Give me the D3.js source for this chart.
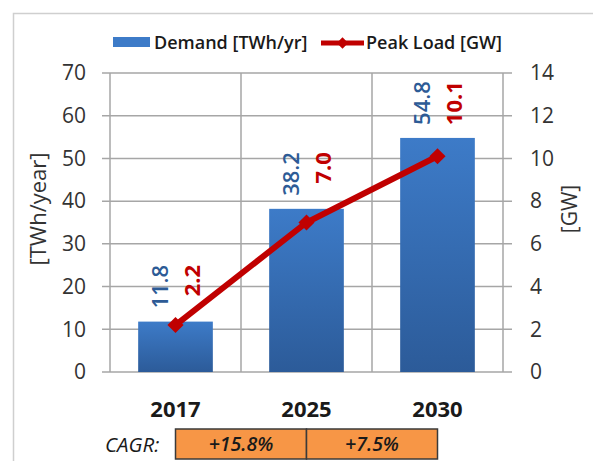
<!DOCTYPE html>
<html>
  <head>
    <title>Demand and Peak Load</title>
    <script src="https://d3js.org/d3.v7.min.js"></script>
    <style>
      body { margin: 0; background: #fff; }
      text { font-family: "Open Sans", "Liberation Sans", Arial, sans-serif; }
    </style>
  </head>
  <body>
    <div id="chart"></div>
    <script>
// data
const years = ["2017", "2025", "2030"];
const demand = [11.8, 38.2, 54.8];      // TWh/yr
const peakLoad = [2.2, 7.0, 10.1];      // GW
const demandLabels = ["11.8", "38.2", "54.8"];
const peakLabels = ["2.2", "7.0", "10.1"];
const leftTicks = [0, 10, 20, 30, 40, 50, 60, 70];
const rightTicks = [0, 2, 4, 6, 8, 10, 12, 14];
const cagr = ["+15.8%", "+7.5%"];

// dimensions
const width = 593;
const height = 461;
const marginTop = 73;
const marginBottom = 89;   // plot bottom at 372
const marginLeft = 110;
const marginRight = 90;    // plot right at 503

const blue = "#2d5b96";
const red = "#c00000";
const grid = "#a6a6a6";
const font = "Open Sans, Liberation Sans, Arial, sans-serif";

function createChart() {
  const x = d3.scaleBand()
    .domain(years)
    .range([marginLeft, width - marginRight])
    .paddingInner(0.43)
    .paddingOuter(0.215);

  // band boundaries (for vertical grid lines)
  const step = (width - marginLeft - marginRight) / years.length;
  const center = d => x(d) + x.bandwidth() / 2;

  const yL = d3.scaleLinear().domain([0, 70]).range([height - marginBottom, marginTop]);
  const yR = d3.scaleLinear().domain([0, 14]).range([height - marginBottom, marginTop]);

  const svg = d3.select("#chart").append("svg")
    .attr("width", width)
    .attr("height", height)
    .attr("viewBox", [0, 0, width, height]);

  // outer frame
  svg.append("rect")
    .attr("x", 13.5).attr("y", 13.5)
    .attr("width", width + 20).attr("height", height + 20)
    .attr("fill", "none").attr("stroke", "#cfcfcf").attr("stroke-width", 1.5);

  const defs = svg.append("defs");
  const grad = defs.append("linearGradient")
    .attr("id", "barGrad").attr("x1", 0).attr("y1", 0).attr("x2", 0).attr("y2", 1);
  grad.append("stop").attr("offset", "0%").attr("stop-color", "#3d7bc8");
  grad.append("stop").attr("offset", "100%").attr("stop-color", "#2c5b99");

  // horizontal grid lines (extend over tick marks)
  svg.append("g")
    .selectAll("line")
    .data(leftTicks)
    .join("line")
    .attr("x1", marginLeft - 8)
    .attr("x2", width - marginRight + 9)
    .attr("y1", d => yL(d))
    .attr("y2", d => yL(d))
    .attr("stroke", grid)
    .attr("stroke-width", 1.5);

  // vertical grid lines at category boundaries
  svg.append("g")
    .selectAll("line")
    .data(d3.range(years.length + 1))
    .join("line")
    .attr("x1", i => marginLeft + i * step)
    .attr("x2", i => marginLeft + i * step)
    .attr("y1", marginTop)
    .attr("y2", height - marginBottom)
    .attr("stroke", grid)
    .attr("stroke-width", 1.5);

  // left axis labels
  svg.append("g")
    .attr("transform", `translate(${marginLeft},0)`)
    .call(d3.axisLeft(yL).tickValues(leftTicks).tickSize(0).tickPadding(24))
    .call(g => g.select(".domain").remove())
    .call(g => g.selectAll("text").attr("font-size", 21).attr("fill", "#333")
      .attr("font-family", font));

  // right axis labels
  svg.append("g")
    .attr("transform", `translate(${width - marginRight},0)`)
    .call(d3.axisRight(yR).tickValues(rightTicks).tickSize(0).tickPadding(27))
    .call(g => g.select(".domain").remove())
    .call(g => g.selectAll("text").attr("font-size", 21).attr("fill", "#333")
      .attr("font-family", font));

  // axis titles
  svg.append("text")
    .attr("transform", "translate(38,209) rotate(-90)")
    .attr("text-anchor", "middle")
    .attr("dy", "0.35em")
    .attr("font-size", 22)
    .attr("fill", "#333")
    .text("[TWh/year]");

  svg.append("text")
    .attr("transform", "translate(570,209) rotate(-90)")
    .attr("text-anchor", "middle")
    .attr("dy", "0.35em")
    .attr("font-size", 21)
    .attr("fill", "#333")
    .text("[GW]");

  // bars
  svg.append("g")
    .selectAll("rect")
    .data(demand)
    .join("rect")
    .attr("x", (d, i) => x(years[i]))
    .attr("y", d => yL(d))
    .attr("width", x.bandwidth())
    .attr("height", d => yL(0) - yL(d))
    .attr("fill", "url(#barGrad)");

  // peak load line
  const line = d3.line()
    .x((d, i) => center(years[i]))
    .y(d => yR(d));

  svg.append("path")
    .datum(peakLoad)
    .attr("fill", "none")
    .attr("stroke", red)
    .attr("stroke-width", 6)
    .attr("d", line);

  svg.append("g")
    .selectAll("path")
    .data(peakLoad)
    .join("path")
    .attr("transform", (d, i) => `translate(${center(years[i])},${yR(d)}) rotate(45)`)
    .attr("d", d3.symbol(d3.symbolSquare, 130)())
    .attr("fill", red);

  // data labels (rotated)
  demand.forEach((d, i) => {
    const cx = center(years[i]);
    const y0 = yL(d) - 13;
    const bl = svg.append("text")
      .attr("transform", `translate(${cx - 15},${y0}) rotate(-90)`)
      .attr("dy", "0.35em")
      .attr("font-size", 22)
      .attr("font-weight", 600)
      .attr("fill", blue)
      .text(demandLabels[i]);
    const top = y0 - bl.node().getComputedTextLength();
    svg.append("text")
      .attr("transform", `translate(${cx + 17},${top}) rotate(-90)`)
      .attr("dy", "0.35em")
      .attr("text-anchor", "end")
      .attr("font-size", 22)
      .attr("font-weight", "bold")
      .attr("fill", red)
      .text(peakLabels[i]);
  });

  // category labels
  svg.append("g")
    .selectAll("text")
    .data(years)
    .join("text")
    .attr("x", d => center(d))
    .attr("y", 417)
    .attr("text-anchor", "middle")
    .attr("font-size", 22)
    .attr("font-weight", "bold")
    .attr("fill", "#1a1a1a")
    .text(d => d);

  // CAGR row
  svg.append("text")
    .attr("x", 105)
    .attr("y", 452)
    .attr("font-size", 20.5)
    .attr("font-style", "italic")
    .attr("fill", "#1a1a1a")
    .text("CAGR:");

  const boxes = svg.append("g");
  cagr.forEach((c, i) => {
    const x0 = center(years[i]);
    const x1 = center(years[i + 1]);
    boxes.append("rect")
      .attr("x", x0).attr("y", 429)
      .attr("width", x1 - x0).attr("height", 30)
      .attr("fill", "#f79646")
      .attr("stroke", "#3a3a3a")
      .attr("stroke-width", 1.5);
    boxes.append("text")
      .attr("x", (x0 + x1) / 2)
      .attr("y", 451)
      .attr("text-anchor", "middle")
      .attr("font-size", 19.5)
      .attr("font-style", "italic")
      .attr("font-weight", 600)
      .attr("fill", "#1a1a1a")
      .text(c);
  });

  // legend
  const legend = svg.append("g").attr("font-size", 18).attr("font-weight", 600).attr("fill", "#1a1a1a");
  legend.append("rect")
    .attr("x", 113).attr("y", 37).attr("width", 37).attr("height", 10)
    .attr("fill", "#3d7bc8");
  legend.append("text")
    .attr("x", 154).attr("y", 49)
    .text("Demand [TWh/yr]");
  legend.append("line")
    .attr("x1", 321).attr("x2", 364).attr("y1", 43).attr("y2", 43)
    .attr("stroke", red).attr("stroke-width", 5);
  legend.append("path")
    .attr("transform", "translate(342.5,43) rotate(45)")
    .attr("d", d3.symbol(d3.symbolSquare, 64)())
    .attr("fill", red);
  legend.append("text")
    .attr("x", 366).attr("y", 49)
    .text("Peak Load [GW]");
}

createChart();
    </script>
  </body>
</html>
